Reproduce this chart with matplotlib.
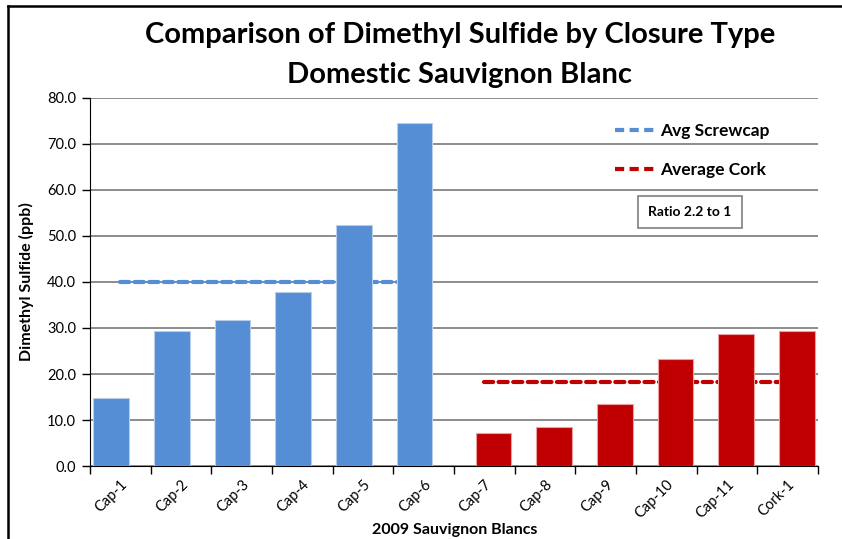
import numpy as np
import matplotlib.pyplot as plt
from matplotlib.lines import Line2D

# data
labels = ['Cap-1', 'Cap-2', 'Cap-3', 'Cap-4', 'Cap-5', 'Cap-6',
          'Cap-7', 'Cap-8', 'Cap-9', 'Cap-10', 'Cap-11', 'Cork-1']
screwcap = [14.7, 29.3, 31.7, 37.8, 52.4, 74.6, 0, 0, 0, 0, 0, 0]
cork = [0, 0, 0, 0, 0, 0, 7.2, 8.5, 13.4, 23.3, 28.8, 29.3]
avg_screwcap = [40.1] * 6
avg_cork = [18.3] * 6

blue = '#558ED5'
red = '#C00000'

plt.rcParams['font.family'] = ['Lato', 'DejaVu Sans']

fig = plt.figure(figsize=(8.42, 5.39), dpi=100)
ax = fig.add_axes([90 / 842, 1 - 466 / 539, 728 / 842, 368 / 539])

x = np.arange(len(labels))
w = 0.585
off = 0.152

# average lines sit behind the bars
ax.plot(x[:6], avg_screwcap, color=blue, lw=3, ls=(0, (2.2, 1.3)),
        dash_capstyle='round', zorder=2)
ax.plot(x[6:], avg_cork, color=red, lw=3, ls=(0, (2.2, 1.3)),
        dash_capstyle='round', zorder=2)

ax.bar(x - off, screwcap, width=w, color=blue, edgecolor='#B9CDE8', lw=0.8, zorder=3)
ax.bar(x + off, cork, width=w, color=red, edgecolor='#E8A0A0', lw=0.8, zorder=3)

ax.set_xlim(-0.5, len(labels) - 0.5)
ax.set_ylim(0, 80)
ax.set_yticks(np.arange(0, 81, 10))
ax.set_yticklabels([f'{v:.1f}' for v in np.arange(0, 81, 10)], fontsize=10.5)
ax.yaxis.grid(True, color='#6E6E6E', lw=1.1, zorder=0)
ax.set_axisbelow(True)

ax.set_xticks(x)
ax.set_xticklabels(labels, rotation=45, ha='right', rotation_mode='anchor', fontsize=10.5)
ax.set_xticks(np.arange(-0.5, len(labels)), minor=True)
ax.tick_params(axis='x', which='major', length=0, pad=8)
ax.tick_params(axis='x', which='minor', length=6, width=1, color='black')
ax.tick_params(axis='y', length=6, width=1, color='black', pad=4)

for s in ['top', 'right']:
    ax.spines[s].set_visible(False)
ax.spines['left'].set_color('black')
ax.spines['bottom'].set_color('black')

ax.set_ylabel('Dimethyl Sulfide (ppb)', fontsize=11.5, fontweight='bold', labelpad=9)
# x axis title placed in figure coords so it stays inside the canvas
fig.text(455 / 842, 2 / 539, '2009 Sauvignon Blancs', ha='center', va='bottom',
         fontsize=11.5, fontweight='bold')

fig.text(0.546, 0.935, 'Comparison of Dimethyl Sulfide by Closure Type',
         ha='center', va='center', fontsize=21, fontweight='bold')
fig.text(0.546, 0.861, 'Domestic Sauvignon Blanc',
         ha='center', va='center', fontsize=21, fontweight='bold')

handles = [Line2D([], [], color=blue, lw=3, ls=(0, (2.2, 1.3))),
           Line2D([], [], color=red, lw=3, ls=(0, (2.2, 1.3)))]
leg = ax.legend(handles, ['Avg Screwcap', 'Average Cork'], loc='upper left',
                bbox_to_anchor=(0.7, 0.975), frameon=False, handlelength=2.4,
                handletextpad=0.2, labelspacing=1.35,
                prop={'weight': 'bold', 'size': 12.5})

ax.text(0.824, 0.69, 'Ratio 2.2 to 1', transform=ax.transAxes, ha='center',
        va='center', fontsize=10, fontweight='bold',
        bbox=dict(boxstyle='square,pad=0.75', fc='white', ec='#7F7F7F', lw=1.2))

# outer chart border (only top and left visible)
fig.add_artist(Line2D([8 / 842, 1], [1 - 6 / 539] * 2, color='black', lw=1.8))
fig.add_artist(Line2D([8 / 842] * 2, [0, 1 - 6 / 539], color='black', lw=1.8))

fig.savefig('out.png', dpi=100)
